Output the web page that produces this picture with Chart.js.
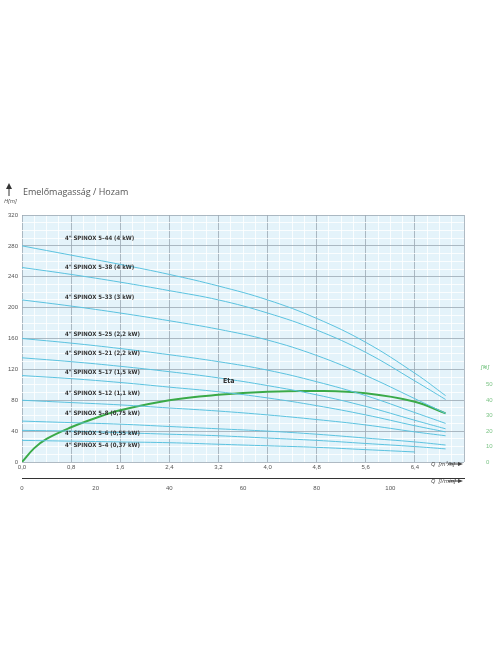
<!DOCTYPE html>
<html><head><meta charset="utf-8">
<script src="https://cdn.jsdelivr.net/npm/chart.js@4"></script>
<style>body{margin:0;background:#fff}#w{width:496px;height:664px}</style>
</head><body><div id="w"><canvas id="c"></canvas></div>
<script>
const Q = [0, 0.8, 1.6, 2.4, 3.2, 4.0, 4.8, 5.6, 6.4, 6.9];
const names = ['4" SPINOX 5–44 (4 kW)','4" SPINOX 5–38 (4 kW)','4" SPINOX 5–33 (3 kW)','4" SPINOX 5–25 (2,2 kW)','4" SPINOX 5–21 (2,2 kW)','4" SPINOX 5–17 (1,5 kW)','4" SPINOX 5–12 (1,1 kW)','4" SPINOX 5–8 (0,75 kW)','4" SPINOX 5–6 (0,55 kW)','4" SPINOX 5–4 (0,37 kW)'];
const h544 = [280, 268, 256, 243, 228, 210, 186, 155, 115, 86];
const h538 = [252, 243, 233, 222, 210, 193, 171, 142, 105, 81];
const h533 = [210, 202, 193, 183, 172, 158, 138, 112, 82, 63];
const h525 = [160, 154, 147, 139, 130, 119, 104, 86, 64, 50];
const h521 = [135, 130, 124, 117, 109, 99, 87, 72, 54, 43];
const h517 = [112, 108, 103, 97, 91, 83, 73, 61, 47, 39];
const h512 = [80, 77, 74, 70, 66, 61, 55, 48, 39, 34];
const h58 = [53, 51, 49, 46, 43, 40, 36, 31, 26, 22];
const h56 = [41, 40, 38, 36, 34, 31, 28, 24, 20, 17];
const h54 = [28, 27, 26, 25, 23, 21, 19, 16, 13, null];
const etaQ = [0, 0.2, 0.4, 0.8, 1.2, 1.6, 2.4, 3.2, 4.0, 4.8, 5.6, 6.4, 6.9];
const eta = [0, 9, 15, 22.5, 28.5, 33.5, 40, 43.5, 45.5, 46, 44.5, 39, 31.5];
const labelY = [238, 267, 297, 334, 353, 372, 393, 413, 433, 445];
const curves = [h544,h538,h533,h525,h521,h517,h512,h58,h56,h54];

const datasets = curves.map((h,i)=>({label:names[i],data:Q.map((q,j)=>h[j]==null?null:{x:q,y:h[j]}).filter(p=>p),borderColor:'#5cc3e0',borderWidth:1,pointRadius:0,tension:0.4,yAxisID:'y',xAxisID:'x'}));
datasets.push({label:'Eta',data:etaQ.map((q,j)=>({x:q,y:eta[j]})),borderColor:'#3aaa48',borderWidth:2,pointRadius:0,tension:0.4,yAxisID:'y2',xAxisID:'x'});

const fmt = v => v.toFixed(1).replace('.', ',');
const near = (v,s)=>Math.abs(v/s-Math.round(v/s))<1e-6;
const txt = {
  id:'txt',
  afterDraw(ch){
    const c=ch.ctx; c.save();
    c.fillStyle='#555'; c.font='9px "Open Sans"'; c.textBaseline='middle';
    c.fillText('Emelőmagasság / Hozam',23,192);
    c.font='italic 6px "Open Sans"'; c.fillText('H[m]',4,201);
    c.strokeStyle='#333'; c.lineWidth=1; c.beginPath(); c.moveTo(9,196); c.lineTo(9,186); c.stroke();
    c.fillStyle='#333'; c.beginPath(); c.moveTo(6,189); c.lineTo(9,183); c.lineTo(12,189); c.fill();
    c.font='bold 6px "Liberation Sans Narrow", "DejaVu Sans Condensed"'; c.fillStyle='#333';
    labelY.forEach((y,i)=>c.fillText(names[i],65,y));
    c.font='bold 7px "Liberation Sans Narrow", "DejaVu Sans Condensed"'; c.fillText('Eta',223,381);
    c.font='italic 6px "Open Sans"'; c.fillStyle='#444';
    c.fillText('Q  [m³/h]',431,464); c.fillText('Q  [l/min]',431,481);
    [464,481].forEach(y=>{c.beginPath();c.moveTo(448,y);c.lineTo(460,y);c.stroke();c.beginPath();c.moveTo(463,y);c.lineTo(458,y-2);c.lineTo(458,y+2);c.fill();});
    c.fillStyle='#5ab868'; c.font='italic 6px "Open Sans"'; c.textAlign='center'; c.fillText('[%]',485,367);
    c.restore();
  }
};
new Chart(document.getElementById('c'),{
  type:'line',
  data:{datasets},
  options:{
    responsive:true,maintainAspectRatio:false,animation:false,
    layout:{padding:{top:215,bottom:164,left:0,right:0}},
    plugins:{legend:{display:false},tooltip:{enabled:false}},
    scales:{
      x:{type:'linear',min:0,max:7.2,afterBuildTicks(a){a.ticks=[];for(let i=0;i<=36;i++)a.ticks.push({value:+(i*0.2).toFixed(2)});},
        afterFit(a){a.height=16;},
        ticks:{autoSkip:false,maxRotation:0,color:'#555',font:{size:6},padding:2,callback:v=>near(v,0.8)&&v<7?fmt(v):''},
        grid:{color:c=>near(c.tick.value,0.8)?'#9aa8b4':'#ffffff',lineWidth:c=>near(c.tick.value,0.8)?0.8:0.8,drawTicks:false},
        border:{display:false}},
      x2:{type:'linear',position:'bottom',min:0,max:120,afterFit(a){a.height=22;},
        ticks:{stepSize:20,color:'#555',font:{size:6},maxRotation:0,callback:v=>v<110?v:''},
        grid:{display:false,drawOnChartArea:false,drawTicks:true,tickLength:4,color:'#333'},
        border:{display:true,color:'#333',width:1}},
      y:{min:0,max:320,afterBuildTicks(a){a.ticks=[];for(let i=0;i<=32;i++)a.ticks.push({value:i*10});},
        afterFit(a){a.width=22;},
        ticks:{autoSkip:false,color:'#555',font:{size:6},padding:4,callback:v=>v%40===0?v:''},
        grid:{color:c=>c.tick.value%40===0?'#9aa8b4':'#ffffff',lineWidth:0.8,drawTicks:false},
        border:{display:false}},
      y2:{position:'right',min:0,max:160,afterFit(a){a.width=32;},
        afterBuildTicks(a){a.ticks=[0,10,20,30,40,50].map(v=>({value:v}));},
        ticks:{color:'#7cc486',font:{size:6},padding:14},
        grid:{display:false},border:{display:false}}
    }
  },
  plugins:[{id:'bg',beforeDraw(ch){const a=ch.chartArea,c=ch.ctx;c.save();c.fillStyle='#e4f3fa';c.fillRect(a.left,a.top,a.right-a.left,a.bottom-a.top);c.restore();}},txt]
});
</script></body></html>
